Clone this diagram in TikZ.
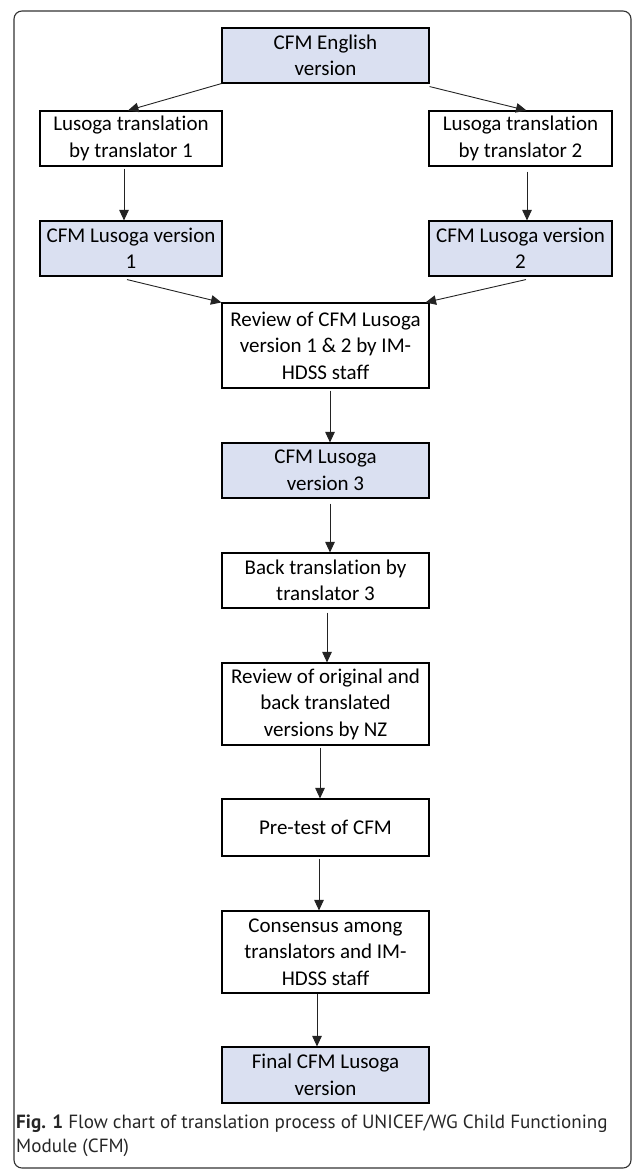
\documentclass[tikz,border=0pt]{standalone}
\usepackage{fontspec}
\setmainfont{Carlito}[Ligatures={NoCommon,NoContextual}]
\newfontfamily\capfont{PT Sans}
\usetikzlibrary{arrows.meta,calc}
\definecolor{boxblue}{RGB}{218,224,241}
\definecolor{framegray}{RGB}{50,50,50}
\definecolor{linegray}{RGB}{35,35,35}
\newcommand{\flowbox}[7]{\node[#1,minimum width={(#5-#3)*1pt},minimum height={(#6-#4)*1pt}] (#2) at ({(#3+#5)/2},{(#4+#6)/2}) {#7};}
\begin{document}
\begin{tikzpicture}[x=1pt,y=-1pt,
  basebox/.style={draw=black, line width=1.1pt, inner sep=0pt, align=center, font=\fontsize{21}{26.5}\selectfont},
  bluebox/.style={basebox, fill=boxblue},
  plainbox/.style={basebox, fill=white},
  arr/.style={draw=linegray, line width=0.9pt, -{Triangle[length=10.5pt,width=9.5pt]}}]
\useasboundingbox (0,0) rectangle (633,1172);
\draw[framegray, line width=1.1pt, rounded corners=8pt] (14,11) rectangle (631,1168);

\flowbox{bluebox}{eng}{222}{28}{429}{83}{CFM English\\version}
\flowbox{plainbox}{t1}{40}{111}{222}{166}{Lusoga translation\\by translator 1}
\flowbox{plainbox}{t2}{429}{111}{612}{166}{Lusoga translation\\by translator 2}
\flowbox{bluebox}{v1}{40}{221}{222}{276}{CFM Lusoga version\\1}
\flowbox{bluebox}{v2}{429}{221}{612}{276}{CFM Lusoga version\\2}
\flowbox{plainbox}{rev}{222}{303}{429}{388}{Review of CFM Lusoga\\version 1 \& 2 by IM-\\HDSS staff}
\flowbox{bluebox}{v3}{222}{443}{429}{498}{CFM Lusoga\\version 3}
\flowbox{plainbox}{bt}{222}{553}{429}{608}{Back translation by\\translator 3}
\flowbox{plainbox}{ro}{222}{663}{429}{745}{Review of original and\\back translated\\versions by NZ}
\flowbox{plainbox}{pt}{222}{799}{429}{856}{Pre-test of CFM}
\flowbox{plainbox}{con}{222}{911}{429}{993}{Consensus among\\translators and IM-\\HDSS staff}
\flowbox{bluebox}{fin}{222}{1047}{429}{1103}{Final CFM Lusoga\\version}

\draw[arr] (eng.south west) -- ($(t1.north)+(-3,0)$);
\draw[arr] ($(eng.south east)+(0,3)$) -- ($(t2.north)+(6,0)$);
\draw[arr] ($(t1.south)+(-7,2)$) -- ($(v1.north)+(-7,0)$);
\draw[arr] ($(t2.south)+(6.5,5)$) -- ($(v2.north)+(6.5,0)$);
\draw[arr] ($(v1.south)+(-4,3)$) -- (rev.north west);
\draw[arr] ($(v2.south)+(5.5,3)$) -- ($(rev.north east)+(-4,0)$);
\draw[arr] ($(rev.south)+(4.5,2)$) -- ($(v3.north)+(4.5,0)$);
\draw[arr] ($(v3.south)+(4.5,5)$) -- ($(bt.north)+(4.5,0)$);
\draw[arr] ($(bt.south)+(1.5,4)$) -- ($(ro.north)+(1.5,0)$);
\draw[arr] ($(ro.south)+(-5.5,2)$) -- ($(pt.north)+(-5.5,0)$);
\draw[arr] ($(pt.south)+(-6.5,2)$) -- ($(con.north)+(-6.5,0)$);
\draw[arr] ($(con.south)+(-8.5,0)$) -- ($(fin.north)+(-8.5,0)$);

\node[anchor=north west, inner sep=0pt, align=left, text=black!85,
  font=\capfont\fontsize{19.1}{24}\selectfont] (cap) at (16,1115)
  {\textbf{Fig. 1} Flow chart of translation process of UNICEF/WG Child Functioning\\Module (CFM)};
\end{tikzpicture}
\end{document}
